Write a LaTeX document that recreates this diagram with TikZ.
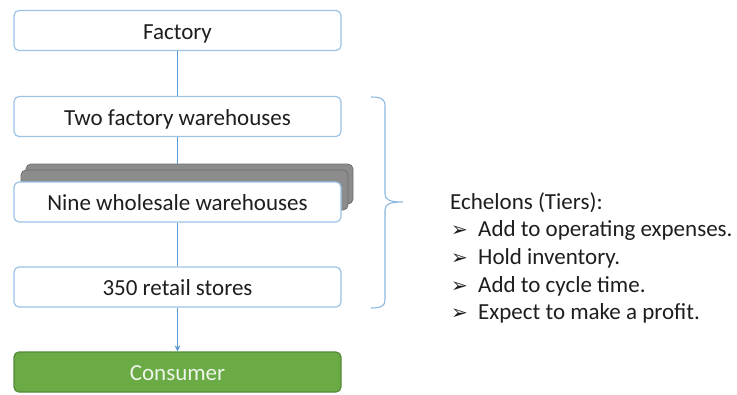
\documentclass[tikz,border=0pt]{standalone}
\usepackage{fontspec}
\setmainfont{Carlito}
\newfontfamily\symfont{DejaVu Sans}
\usetikzlibrary{arrows.meta}
\definecolor{boxline}{HTML}{9DC3E6}
\definecolor{conn}{HTML}{5B9BD5}
\definecolor{txt}{HTML}{1E1E1E}
\definecolor{shadowgray}{HTML}{8C8C8C}
\definecolor{shadowline}{HTML}{6E6E6E}
\definecolor{green}{HTML}{6AAB45}
\definecolor{greentxt}{HTML}{EEF5EA}
\begin{document}
\begin{tikzpicture}[x=1pt,y=-1pt,
  tier/.style={draw=boxline, line width=1.2pt, fill=white, rounded corners=5pt,
    minimum width=327pt, minimum height=40pt, inner sep=0pt,
    text height=17pt, text depth=0pt,
    font=\fontsize{23}{27}\selectfont, text=txt},
  shadowbox/.style={draw=shadowline, line width=0.8pt, fill=shadowgray, rounded corners=5pt,
    minimum width=327pt, minimum height=40pt, inner sep=0pt},
  link/.style={draw=conn, line width=1.4pt},
  label/.style={anchor=west, inner sep=0pt, font=\fontsize{23}{27}\selectfont, text=txt},
  bul/.style={anchor=west, inner sep=0pt, font=\symfont\fontsize{20}{24}\selectfont, text=txt}]
\useasboundingbox (0,0) rectangle (737,394);

\node[tier] (factory) at (177.5,30.5) {Factory};
\node[tier] (twofw) at (177.5,116.5) {Two factory warehouses};
\node[shadowbox] (sh2) at (189.5,184) {};
\node[shadowbox] (sh1) at (184.5,190) {};
\node[tier] (nine) at (177.5,202) {Nine wholesale warehouses};
\node[tier] (retail) at (177.5,287) {350 retail stores};
\node[tier, draw=green!80!black, fill=green, text=greentxt] (consumer) at (177.5,372) {Consumer};

\draw[link] (factory) -- (twofw);
\draw[link] (twofw.south) -- (twofw.south |- sh2.north);
\draw[link] (nine) -- (retail);
\draw[link, -{Stealth[length=6pt,width=6pt]}] (retail) -- (consumer);

% brace
\draw[draw=conn!70, line width=1.1pt]
  (371,97) .. controls (381,97) and (385,99) .. (385,106) -- (385,194)
  .. controls (385,200) and (390,202) .. (403,202)
  .. controls (390,202) and (385,204) .. (385,210) -- (385,300)
  .. controls (385,306) and (381,308) .. (371,308);

\node[label] (title) at (450,203) {Echelons (Tiers):};
\node[bul] (b1) at (451,231) {➢};
\node[label] (t1) at (478,230) {Add to operating expenses.};
\node[bul] (b2) at (451,259) {➢};
\node[label] (t2) at (478,258) {Hold inventory.};
\node[bul] (b3) at (451,287) {➢};
\node[label] (t3) at (478,286) {Add to cycle time.};
\node[bul] (b4) at (451,314) {➢};
\node[label] (t4) at (478,313) {Expect to make a profit.};
\end{tikzpicture}
\end{document}
